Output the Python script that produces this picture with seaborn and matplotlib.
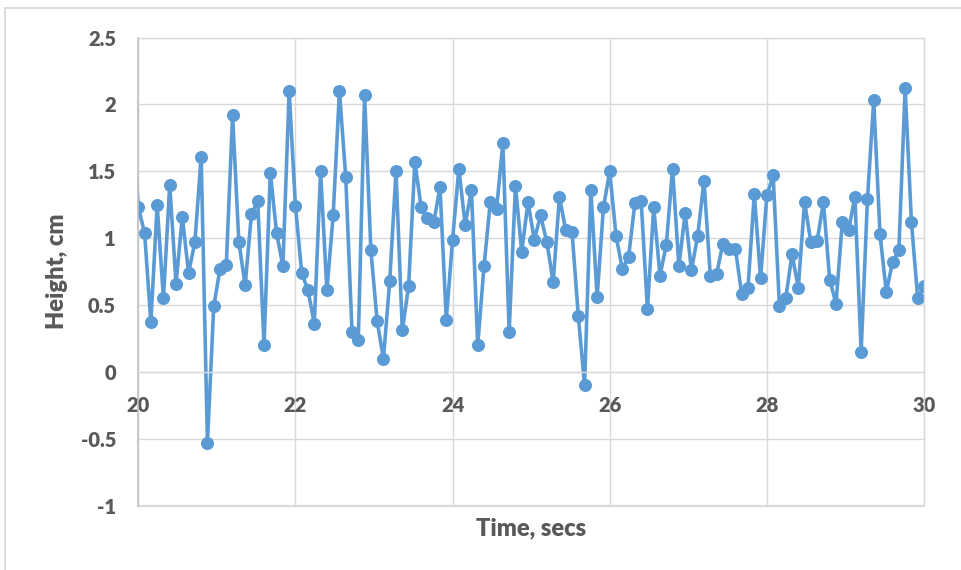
import numpy as np
import pandas as pd
import matplotlib
matplotlib.use("Agg")
import matplotlib.pyplot as plt
import seaborn as sns
from matplotlib.lines import Line2D

# ---- data ----
t_start = 19.92          # first sample (just left of the visible window)
dt = 0.08                # sampling interval, s
height_cm = [
    1.95,
    1.23, 1.04, 0.37, 1.25, 0.55, 1.40, 0.66, 1.16, 0.74, 0.97,
    1.61, -0.53, 0.49, 0.77, 0.80, 1.92, 0.97, 0.65, 1.18, 1.28,
    0.20, 1.49, 1.04, 0.79, 2.10, 1.24, 0.74, 0.61, 0.36, 1.50,
    0.61, 1.17, 2.10, 1.46, 0.30, 0.24, 2.07, 0.91, 0.38, 0.10,
    0.68, 1.50, 0.31, 0.64, 1.57, 1.23, 1.15, 1.12, 1.38, 0.39,
    0.99, 1.52, 1.10, 1.36, 0.20, 0.79, 1.27, 1.22, 1.71, 0.30,
    1.39, 0.90, 1.27, 0.99, 1.17, 0.97, 0.67, 1.31, 1.06, 1.05,
    0.42, -0.10, 1.36, 0.56, 1.23, 1.50, 1.02, 0.77, 0.86, 1.26,
    1.28, 0.47, 1.23, 0.72, 0.95, 1.52, 0.79, 1.19, 0.76, 1.02,
    1.43, 0.72, 0.73, 0.96, 0.92, 0.92, 0.58, 0.63, 1.33, 0.70,
    1.32, 1.47, 0.49, 0.55, 0.88, 0.63, 1.27, 0.97, 0.98, 1.27,
    0.69, 0.51, 1.12, 1.06, 1.31, 0.15, 1.29, 2.03, 1.03, 0.60,
    0.82, 0.91, 2.12, 1.12, 0.55, 0.64,
]
time_s = np.round(t_start + dt * np.arange(len(height_cm)), 2)

x_ticks = [20, 22, 24, 26, 28, 30]
y_ticks = [-1, -0.5, 0, 0.5, 1, 1.5, 2, 2.5]
y_tick_labels = ["-1", "-0.5", "0", "0.5", "1", "1.5", "2", "2.5"]
x_title = "Time, secs"
y_title = "Height, cm"

df = pd.DataFrame({"time": time_s, "height": height_cm})

# ---- style ----
sns.set_theme(style="white")
plt.rcParams["font.family"] = ["Lato", "DejaVu Sans"]
text_color = "#595959"
grid_color = "#d9d9d9"
line_color = "#5b9bd5"
weight = "heavy"

W, H = 961, 570
fig = plt.figure(figsize=(W / 100, H / 100), dpi=100)
fig.patch.set_facecolor("white")

L, R, T, B = 138.3, 924.0, 37.6, 505.7
ax = fig.add_axes([L / W, 1 - B / H, (R - L) / W, (B - T) / H])
ax.set_facecolor("white")

sns.lineplot(
    data=df, x="time", y="height", ax=ax, estimator=None, sort=False,
    color=line_color, linewidth=2.6, marker="o", markersize=9.4,
    markeredgewidth=0, markerfacecolor=line_color,
)

ax.set_xlim(20, 30)
ax.set_ylim(-1, 2.5)
ax.set_xticks(x_ticks)
ax.set_yticks(y_ticks)
ax.set_yticklabels(y_tick_labels)

ax.grid(True, color=grid_color, linewidth=1.0)
ax.set_axisbelow(True)

for side in ["top", "right"]:
    ax.spines[side].set_color(grid_color)
    ax.spines[side].set_linewidth(1.0)
ax.spines["left"].set_color("#bfbfbf")
ax.spines["left"].set_linewidth(1.2)
ax.spines["bottom"].set_position(("data", 0))
ax.spines["bottom"].set_color(grid_color)
ax.spines["bottom"].set_linewidth(1.0)
# bottom border of plot area
ax.axhline(-1, color=grid_color, linewidth=1.6, clip_on=False, zorder=0.5)

ax.tick_params(axis="both", length=0, labelsize=14.5, labelcolor=text_color)
ax.tick_params(axis="x", pad=17)
ax.tick_params(axis="y", pad=16)
for lab in ax.get_xticklabels() + ax.get_yticklabels():
    lab.set_fontweight(weight)

ax.set_xlabel(x_title, fontsize=17, fontweight=weight, color=text_color)
ax.set_ylabel(y_title, fontsize=17, fontweight=weight, color=text_color)
ax.xaxis.label.set_verticalalignment("center")
ax.yaxis.label.set_verticalalignment("center")
ax.xaxis.set_label_coords(0.5, (B - 528.5) / (B - T))
ax.yaxis.set_label_coords((57 - L) / (R - L), 0.5)

# outer chart border (top and left edges visible in the crop)
fig.add_artist(Line2D([5 / W, 5 / W], [-0.1, 1 - 8.3 / H], transform=fig.transFigure,
                      color=grid_color, linewidth=1.3))
fig.add_artist(Line2D([5 / W, 1.1], [1 - 8.3 / H, 1 - 8.3 / H], transform=fig.transFigure,
                      color=grid_color, linewidth=1.3))

fig.savefig("out.png", dpi=100, facecolor="white")
